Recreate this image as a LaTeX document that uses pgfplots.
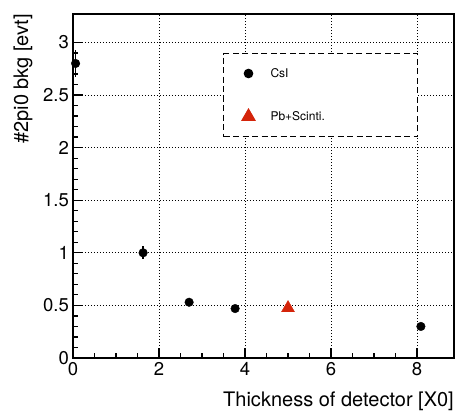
\documentclass[border=0pt]{standalone}
\usepackage{fontspec}
\setmainfont{TeX Gyre Heros}
\usepackage{pgfplots}
\pgfplotsset{compat=1.18}
\usepackage{pgfplotstable}
\definecolor{rootred}{RGB}{212,36,10}

\pgfplotstableread{
x y ey
0.06 2.80 0.13
1.63 1.00 0.06
2.70 0.53 0.02
3.77 0.47 0.02
8.09 0.30 0.02
}\csidata
\pgfplotstableread{
x y ey
5.00 0.475 0.0
}\pbdata

\begin{document}
\begin{tikzpicture}
\begin{axis}[
  name=ax,
  scale only axis,
  width=381pt, height=344pt,
  xmin=0, xmax=8.86,
  ymin=0, ymax=3.27,
  clip=false,
  axis line style={line width=1.4pt},
  xtick={0,2,4,6,8},
  ytick={0,0.5,1,1.5,2,2.5,3},
  minor x tick num=3,
  minor y tick num=4,
  tick align=inside,
  tick pos=left,
  major tick length=10pt,
  minor tick length=5pt,
  tick style={line width=1.2pt, black},
  grid=major,
  major grid style={black, line width=1pt, dash pattern=on 1.3pt off 1.7pt},
  /pgf/number format/assume math mode=true,
  tick label style={font=\fontsize{18.5}{20}\selectfont, inner sep=0pt},
  yticklabel style={xshift=-4pt},
  xticklabel style={yshift=-4pt},
  xlabel={Thickness of detector [X0]},
  ylabel={\#2pi0 bkg [evt]},
  label style={font=\fontsize{20}{22}\selectfont, inner sep=0pt},
  xlabel style={at={(axis description cs:1,-0.142)}, anchor=base east},
  ylabel style={at={(axis description cs:-0.118,1.0)}, anchor=base east},
  legend image code/.code={%
    \path[draw=none, fill=none] (-10pt,-5.7pt) rectangle (10pt,14.3pt);
    \draw[#1] plot coordinates {(0pt,4.3pt)};},
  legend style={
    at={(axis description cs:0.3937,0.8866)}, anchor=north west,
    draw=black, line width=1pt, dash pattern=on 6pt off 3.5pt,
    inner xsep=15pt, inner ysep=10pt,
    row sep=23pt, column sep=12pt,
    font=\fontsize{12}{13}\selectfont,
    nodes={inner sep=0pt, anchor=base west, solid},
  },
  legend cell align=left,
]
\addplot[only marks, mark=*, mark size=4.3pt, black, solid,
  error bars/.cd, y dir=both, y explicit,
  error bar style={line width=1.8pt, solid}, error mark=none]
  table[x=x, y=y, y error=ey] {\csidata};
\addlegendentry{\makebox[132pt][l]{CsI}}
\addplot[only marks, mark=triangle*, mark size=7.5pt, rootred, solid]
  table[x=x, y=y] {\pbdata};
\addlegendentry{\makebox[132pt][l]{Pb+Scinti.}}
\end{axis}
\pgfresetboundingbox
\path ([shift={(-73pt,-52pt)}]ax.south west) rectangle ([shift={(1pt,14pt)}]ax.north east);
\end{tikzpicture}
\end{document}
